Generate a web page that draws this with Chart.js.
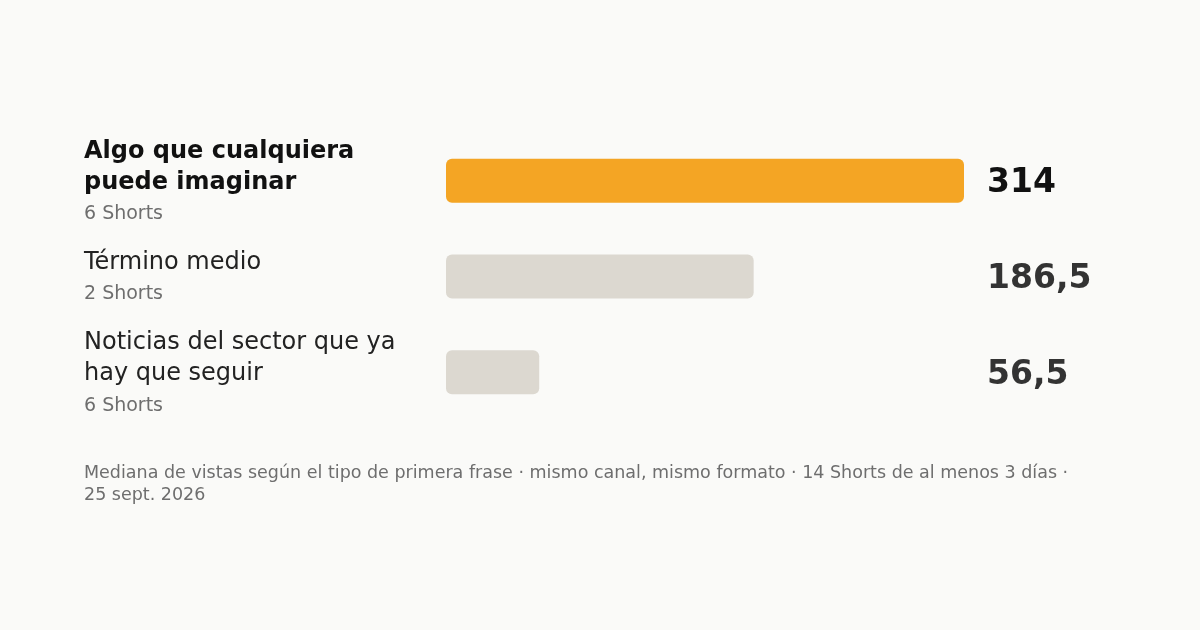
<!DOCTYPE html>
<html>
<head>
<meta charset="utf-8">
<script src="https://cdn.jsdelivr.net/npm/chart.js@4"></script>
<style>
  html, body { margin: 0; padding: 0; background: #fafaf8; }
  #wrap { width: 1200px; height: 630px; position: relative; }
</style>
</head>
<body>
<div id="wrap"><canvas id="shortsChart" width="1200" height="630"></canvas></div>
<script>
// categories (wrapped title lines), subtitles and median views
const categories = [
    ['Algo que cualquiera', 'puede imaginar'],
    ['Término medio'],
    ['Noticias del sector que ya', 'hay que seguir']
];
const counts = ['6 Shorts', '2 Shorts', '6 Shorts'];
const medianViews = [314, 186.5, 56.5];
const valueLabels = ['314', '186,5', '56,5'];
const footerLines = [
    'Mediana de vistas según el tipo de primera frase · mismo canal, mismo formato · 14 Shorts de al menos 3 días ·',
    '25 sept. 2026'
];

const FONT = '"DejaVu Sans", sans-serif';
const highlight = 0;

// left labels, right values and footer
const labelPlugin = {
    id: 'labelPlugin',
    afterDraw(chart) {
        const ctx = chart.ctx;
        const y = chart.scales.y;
        const meta = chart.getDatasetMeta(0);
        ctx.save();
        ctx.textBaseline = 'middle';
        categories.forEach((lines, i) => {
            const cy = y.getPixelForValue(i);
            const lineH = 31;
            const blockH = (lines.length - 1) * lineH + 33;
            let top = cy - blockH / 2;
            ctx.textAlign = 'left';
            ctx.fillStyle = i === highlight ? '#111111' : '#222222';
            ctx.font = (i === highlight ? 'bold ' : '') + '24px ' + FONT;
            lines.forEach((t, k) => ctx.fillText(t, 84, top + 3 + k * lineH));
            ctx.fillStyle = '#6e6e6e';
            ctx.font = '19px ' + FONT;
            ctx.fillText(counts[i], 84, top + blockH + 1.5);

            ctx.fillStyle = i === highlight ? '#111111' : '#333333';
            ctx.font = 'bold 33px ' + FONT;
            ctx.fillText(valueLabels[i], 987, meta.data[i].y + 3);
        });
        ctx.fillStyle = '#6e6e6e';
        ctx.font = '17.5px ' + FONT;
        footerLines.forEach((t, k) => ctx.fillText(t, 84, 473 + k * 22));
        ctx.restore();
    }
};

new Chart(document.getElementById('shortsChart').getContext('2d'), {
    type: 'bar',
    data: {
        labels: categories.map(c => c.join(' ')),
        datasets: [{
            data: medianViews,
            backgroundColor: medianViews.map((v, i) => i === highlight ? '#f4a524' : '#dcd8d0'),
            borderRadius: 6,
            borderSkipped: false,
            barPercentage: 0.92,
            categoryPercentage: 0.5
        }]
    },
    options: {
        indexAxis: 'y',
        responsive: false,
        animation: false,
        layout: { padding: { left: 446, right: 236, top: 133, bottom: 210 } },
        scales: {
            x: { display: false, min: 0, max: 314 },
            y: { display: false }
        },
        plugins: {
            legend: { display: false },
            tooltip: { enabled: false }
        }
    },
    plugins: [labelPlugin]
});
</script>
</body>
</html>
